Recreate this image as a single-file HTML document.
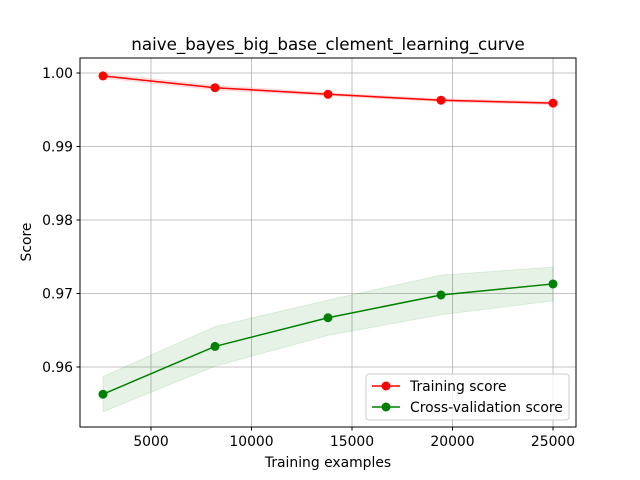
<!DOCTYPE html>
<html><head><meta charset="utf-8"><style>
body{margin:0;background:#fff;}
svg{display:block;font-family:"DejaVu Sans","Liberation Sans",sans-serif;}
</style></head><body>
<svg id="chart" width="640" height="480">
<text x="328" y="50" text-anchor="middle" font-size="16.7">naive_bayes_big_base_clement_learning_curve</text>
<g id="grid"></g><g id="bands"></g><g id="lines"></g>
<rect x="80" y="58" width="496" height="369" fill="none" stroke="#000" stroke-width="1"/>
<g id="ticks"></g>
<text x="328" y="467" text-anchor="middle" font-size="13.9">Training examples</text>
<text x="31" y="242" text-anchor="middle" font-size="13.9" transform="rotate(-90 31 242)">Score</text>
<g>
<rect x="366" y="374" width="203" height="46" rx="3" fill="#fff" fill-opacity="0.8" stroke="#ccc"/>
<line x1="372" y1="386" x2="400" y2="386" stroke="red" stroke-width="1.5"/><circle cx="386" cy="386" r="4.5" fill="red"/>
<text x="410" y="391" font-size="13.9">Training score</text>
<line x1="372" y1="407" x2="400" y2="407" stroke="green" stroke-width="1.5"/><circle cx="386" cy="407" r="4.5" fill="green"/>
<text x="410" y="412" font-size="13.9">Cross-validation score</text>
</g>
</svg>
<script>
const trainSizes=[2612,8184,13806,19428,25000];
const trainScores=[0.9996,0.9980,0.9971,0.9963,0.9959];
const trainStd=[0.0003,0.0003,0.0002,0.0002,0.0002];
const cvScores=[0.9563,0.9628,0.9667,0.9698,0.9713];
const cvStd=[0.0024,0.0027,0.0024,0.0027,0.0023];
const xTicks=[5000,10000,15000,20000,25000];
const yTicks=[0.96,0.97,0.98,0.99,1.00];
const yLabels=["0.96","0.97","0.98","0.99","1.00"];
const X=v=>80+(v-1468)*(496/(26144-1468));
const Y=v=>58+(1.00204-v)*7350;
const NS="http://www.w3.org/2000/svg";
function mk(p,t,a){const e=document.createElementNS(NS,t);for(const k in a)e.setAttribute(k,a[k]);document.getElementById(p).appendChild(e);return e;}
xTicks.forEach(v=>{const x=X(v);
const g=mk('grid','line',{x1:x,x2:x,y1:58,y2:427,stroke:'#b0b0b0','stroke-width':0.8});

mk('ticks','line',{x1:x,x2:x,y1:427,y2:430.5,stroke:'#000'});
const t=mk('ticks','text',{x:x,y:446,'text-anchor':'middle','font-size':13.9});t.textContent=v;
});
yTicks.forEach((v,i)=>{const y=Y(v);
const g=mk('grid','line',{x1:80,x2:576,y1:y,y2:y,stroke:'#b0b0b0','stroke-width':0.8});

mk('ticks','line',{x1:76.5,x2:80,y1:y,y2:y,stroke:'#000'});
const t=mk('ticks','text',{x:73,y:y+5,'text-anchor':'end','font-size':13.9});t.textContent=yLabels[i];
});
function series(m,s,c,name){
const up=trainSizes.map((x,i)=>X(x)+','+Y(m[i]+s[i]));
const dn=trainSizes.map((x,i)=>X(x)+','+Y(m[i]-s[i])).reverse();
const b=mk('bands','polygon',{points:up.concat(dn).join(' '),fill:c,'fill-opacity':0.1,stroke:c,'stroke-opacity':0.1});

const l=mk('lines','polyline',{points:trainSizes.map((x,i)=>X(x)+','+Y(m[i])).join(' '),fill:'none',stroke:c,'stroke-width':1.5});

trainSizes.forEach((x,i)=>{const p=mk('lines','circle',{cx:X(x),cy:Y(m[i]),r:4.5,fill:c});
});}
series(trainScores,trainStd,'red','training-score');
series(cvScores,cvStd,'green','cv-score');
</script>
</body></html>
